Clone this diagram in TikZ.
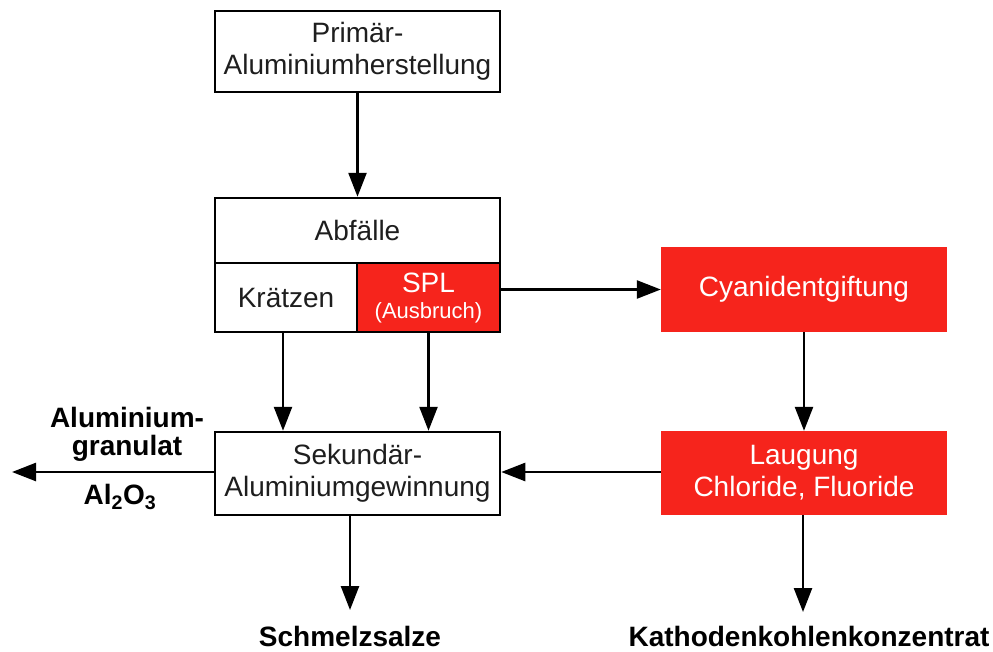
\documentclass[tikz,border=0pt]{standalone}
\usepackage{fontspec}
\setmainfont{Liberation Sans}
\usetikzlibrary{arrows.meta}
\definecolor{splred}{RGB}{246,36,28}
\definecolor{txt}{RGB}{30,30,30}
\begin{document}
\begin{tikzpicture}[x=1pt,y=-1pt,
  box/.style={draw=black,line width=2.5pt,fill=white,inner sep=0pt,align=center,
    text=txt,font=\fontsize{28}{32}\selectfont},
  redbox/.style={fill=splred,draw=none,inner sep=0pt,align=center,text=white,
    font=\fontsize{28}{32}\selectfont},
  arr/.style={line width=2.5pt,-{Triangle[length=24pt,width=18pt]}},
  outlbl/.style={font=\bfseries\fontsize{28}{28}\selectfont,text=black,inner sep=0pt}]
\useasboundingbox (0,0) rectangle (993,651);
\node[box,minimum width=285pt,minimum height=81pt] (prim) at (357.5,51.5) {Primär-\\Aluminiumherstellung};
\node[box,minimum width=285pt,minimum height=65pt] (abf) at (357.5,230.5) {Abfälle};
\node[box,minimum width=142pt,minimum height=69pt] (kr) at (286,297.5) {Krätzen};
\node[box,fill=splred,text=white,minimum width=143pt,minimum height=69pt] (spl) at (428.5,297.5)
  {SPL\\[-6pt]{\fontsize{22}{24}\selectfont(Ausbruch)}};
\node[box,minimum width=285pt,minimum height=83pt] (sek) at (357.5,473.5) {Sekundär-\\Aluminiumgewinnung};
\node[redbox,minimum width=286pt,minimum height=85pt] (cy) at (804,289.5) {Cyanidentgiftung};
\node[redbox,minimum width=286pt,minimum height=84pt] (lau) at (804,473) {Laugung\\Chloride, Fluoride};
\coordinate (outL) at (12,472);
\coordinate (outS) at (350,610);
\coordinate (outK) at (803,612);
\draw[arr] (prim.south) -- (abf.north);
\draw[arr] (kr.south -| 283,0) -- (sek.north -| 283,0);
\draw[arr] (spl.south) -- (spl.south |- sek.north);
\draw[arr] (spl.east |- cy.west) -- (cy.west);
\draw[arr] (cy.south) -- (lau.north);
\draw[arr] (lau.west |- 0,472) -- (sek.east |- 0,472);
\draw[arr] (sek.west |- outL) -- (outL);
\draw[arr] (sek.south -| outS) -- (outS);
\draw[arr] (lau.south -| outK) -- (outK);
\node[outlbl,align=center,anchor=south] (alg) at (127,462) {Aluminium-\\granulat};
\node[outlbl,anchor=center] (al2o3) at (120,497) {Al\textsubscript{2}O\textsubscript{3}};
\node[outlbl,anchor=base] (schm) at (350,646) {Schmelzsalze};
\node[outlbl,anchor=base] (kath) at (809,646) {Kathodenkohlenkonzentrat};
\end{tikzpicture}
\end{document}
